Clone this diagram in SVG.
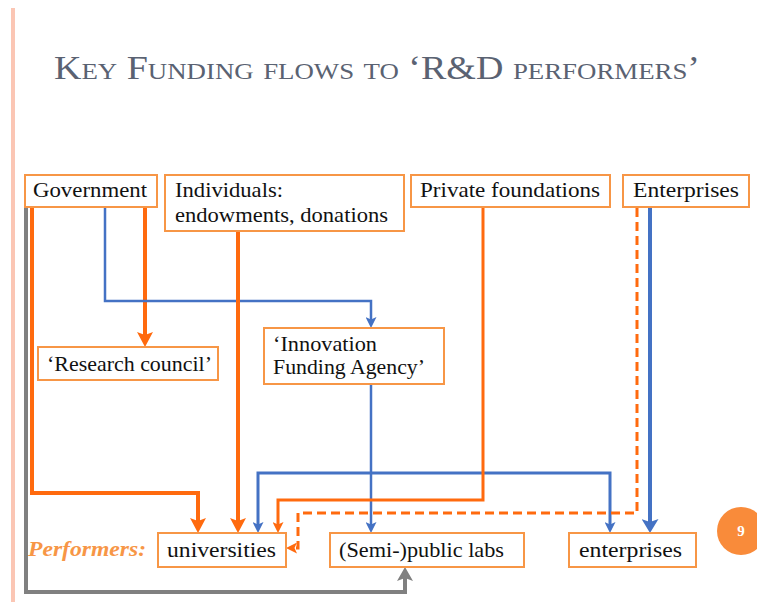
<svg xmlns="http://www.w3.org/2000/svg" width="757" height="602" viewBox="0 0 757 602">
  <style>
    .box { fill: #ffffff; stroke: #F79646; stroke-width: 2; }
    .lbl { font-family: "Liberation Serif", "Times New Roman", serif; font-size: 21px; fill: #111111; }
    .title { font-family: "Liberation Serif", "Times New Roman", serif; font-size: 34px; fill: #5A6272; font-variant: small-caps; }
    .perf { font-family: "Liberation Serif", "Times New Roman", serif; font-size: 20px; font-style: italic; font-weight: bold; fill: #F79646; }
    .flow { fill: none; stroke-linejoin: miter; }
    .orange { stroke: #FF6A0E; }
    .blue { stroke: #4472C4; }
    .gray { stroke: #808080; }
    .w4 { stroke-width: 4; }
    .w3 { stroke-width: 3; }
    .w2 { stroke-width: 2.5; }
    .dash { stroke-dasharray: 9 5; }
  </style>
  <defs>
    <marker id="ah-orange-lg" viewBox="0 0 15 16" refX="9" refY="8" markerWidth="15" markerHeight="16" markerUnits="userSpaceOnUse" orient="auto">
      <path d="M0,0 L15,8 L0,16 L3,8 z" fill="#FF6A0E"/>
    </marker>
    <marker id="ah-orange-sm" viewBox="0 0 11 11" refX="7" refY="5.5" markerWidth="11" markerHeight="11" markerUnits="userSpaceOnUse" orient="auto">
      <path d="M0,0 L11,5.5 L0,11 L2.5,5.5 z" fill="#FF6A0E"/>
    </marker>
    <marker id="ah-blue-sm" viewBox="0 0 11 11" refX="7" refY="5.5" markerWidth="11" markerHeight="11" markerUnits="userSpaceOnUse" orient="auto-start-reverse">
      <path d="M0,0 L11,5.5 L0,11 L2.5,5.5 z" fill="#4472C4"/>
    </marker>
    <marker id="ah-blue-lg" viewBox="0 0 14 17" refX="8" refY="8.5" markerWidth="14" markerHeight="17" markerUnits="userSpaceOnUse" orient="auto">
      <path d="M0,0 L14,8.5 L0,17 L3,8.5 z" fill="#4472C4"/>
    </marker>
    <marker id="ah-gray" viewBox="0 0 14 16" refX="8" refY="8" markerWidth="14" markerHeight="16" markerUnits="userSpaceOnUse" orient="auto">
      <path d="M0,0 L14,8 L0,16 L3,8 z" fill="#808080"/>
    </marker>
  </defs>

  <rect width="757" height="602" fill="#ffffff"/>

  <!-- side rule -->
  <rect x="11" y="8" width="4" height="594" fill="#FBC6B4"/>

  <!-- heading -->
  <text class="title" x="54" y="79" textLength="646" lengthAdjust="spacingAndGlyphs">Key Funding flows to ‘R&amp;D performers’</text>

  <!-- connectors -->
  <g id="connectors">
    <path class="flow gray w4" d="M26,208 V592 H405 V573" marker-end="url(#ah-gray)"/>
    <path class="flow orange w4" d="M32,208 V493 H198 V527" marker-end="url(#ah-orange-lg)"/>
    <path class="flow orange w4" d="M145,208 V341" marker-end="url(#ah-orange-lg)"/>
    <path class="flow blue w2" d="M105,208 V301 H371 V324" marker-end="url(#ah-blue-sm)"/>
    <path class="flow orange w4" d="M238,231 V527" marker-end="url(#ah-orange-lg)"/>
    <path class="flow blue w2" d="M371,384 V529" marker-end="url(#ah-blue-sm)"/>
    <path class="flow blue w3" d="M258,529 V473 H610 V529" marker-start="url(#ah-blue-sm)" marker-end="url(#ah-blue-sm)"/>
    <path class="flow orange w3" d="M483,208 V500 H278 V529" marker-end="url(#ah-orange-sm)"/>
    <path class="flow orange w3 dash" d="M637,208 V513 H298 V548 H290" marker-end="url(#ah-orange-sm)"/>
    <path class="flow blue w4" d="M650,208 V527" marker-end="url(#ah-blue-lg)"/>
  </g>

  <!-- funders -->
  <g id="government">
    <rect class="box" x="25" y="175" width="132" height="32"/>
    <text class="lbl" x="33" y="197" textLength="114" lengthAdjust="spacingAndGlyphs">Government</text>
  </g>
  <g id="individuals">
    <rect class="box" x="165" y="175" width="239" height="56"/>
    <text class="lbl" x="175" y="197" textLength="108" lengthAdjust="spacingAndGlyphs">Individuals:</text>
    <text class="lbl" x="175" y="222" textLength="213" lengthAdjust="spacingAndGlyphs">endowments, donations</text>
  </g>
  <g id="private-foundations">
    <rect class="box" x="411" y="175" width="199" height="32"/>
    <text class="lbl" x="420" y="197" textLength="180" lengthAdjust="spacingAndGlyphs">Private foundations</text>
  </g>
  <g id="enterprises-funder">
    <rect class="box" x="623" y="175" width="126" height="32"/>
    <text class="lbl" x="633" y="197" textLength="106" lengthAdjust="spacingAndGlyphs">Enterprises</text>
  </g>

  <!-- intermediaries -->
  <g id="research-council">
    <rect class="box" x="38" y="347" width="180" height="33"/>
    <text class="lbl" x="47" y="371" textLength="165" lengthAdjust="spacingAndGlyphs">‘Research council’</text>
  </g>
  <g id="innovation-agency">
    <rect class="box" x="264" y="328" width="180" height="56"/>
    <text class="lbl" x="273" y="351" textLength="104" lengthAdjust="spacingAndGlyphs">‘Innovation</text>
    <text class="lbl" x="273" y="374" textLength="152" lengthAdjust="spacingAndGlyphs">Funding Agency’</text>
  </g>

  <!-- performers -->
  <text class="perf" x="28" y="556" textLength="118" lengthAdjust="spacingAndGlyphs">Performers:</text>
  <g id="universities">
    <rect class="box" x="158" y="533" width="128" height="34"/>
    <text class="lbl" x="167" y="557" textLength="109" lengthAdjust="spacingAndGlyphs">universities</text>
  </g>
  <g id="public-labs">
    <rect class="box" x="330" y="533" width="194" height="34"/>
    <text class="lbl" x="339" y="557" textLength="165" lengthAdjust="spacingAndGlyphs">(Semi-)public labs</text>
  </g>
  <g id="enterprises-performer">
    <rect class="box" x="569" y="533" width="127" height="34"/>
    <text class="lbl" x="579" y="557" textLength="103" lengthAdjust="spacingAndGlyphs">enterprises</text>
  </g>

  <!-- page number -->
  <circle cx="741" cy="531" r="24" fill="#F98B3A"/>
  <text x="741" y="536" text-anchor="middle" font-family="Liberation Serif, serif" font-size="15" font-weight="bold" fill="#ffffff">9</text>
</svg>
